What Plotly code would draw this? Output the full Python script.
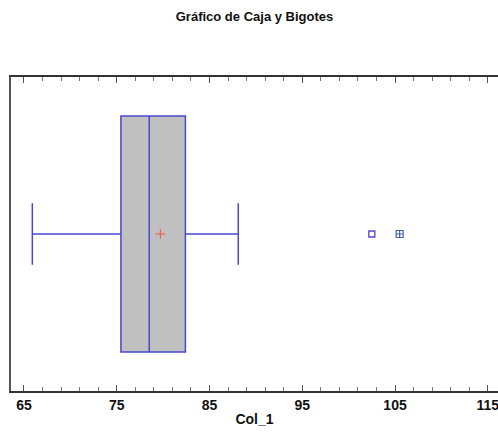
import plotly.graph_objects as go

# Summary values
q1 = [75.45]
median = [78.5]
q3 = [82.4]
lower_whisker = [65.9]
upper_whisker = [88.1]
mean_val = [79.7]
outliers = [102.5]
far_outliers = [105.5]
tick_vals = [65, 75, 85, 95, 105, 115]

FONT = "Liberation Sans Narrow, Arial Narrow, Liberation Sans, Arial, sans-serif"
BLUE = "#4848d0"

fig = go.Figure()
fig.add_trace(go.Box(
    q1=q1, median=median, q3=q3,
    lowerfence=lower_whisker, upperfence=upper_whisker,
    y=[0], orientation="h", boxpoints=False,
    width=0.752, whiskerwidth=0.26,
    fillcolor="#c0c0c0", line=dict(color=BLUE, width=1.5),
    showlegend=False, hoverinfo="skip",
))
fig.add_trace(go.Scatter(
    x=mean_val, y=[0], mode="markers",
    marker=dict(symbol="cross-thin-open", size=7, line=dict(color="#8e4040", width=1)),
    showlegend=False,
))
fig.add_trace(go.Scatter(
    x=outliers, y=[0] * len(outliers), mode="markers",
    marker=dict(symbol="square-open", size=6, color="#5a40d0", line=dict(width=1.3)),
    showlegend=False,
))
fig.add_trace(go.Scatter(
    x=far_outliers, y=[0] * len(far_outliers), mode="markers",
    marker=dict(symbol="square-cross-open", size=7, color="#4060b0", line=dict(width=1.2)),
    showlegend=False,
))

fig.update_layout(
    width=498, height=438,
    margin=dict(l=11, r=0, t=77, b=47),
    paper_bgcolor="white", plot_bgcolor="white",
    title=dict(text="<b>Gráfico de Caja y Bigotes</b>", x=0.5, xref="paper",
               y=1 - 16 / 438, yref="container", yanchor="middle", xanchor="center",
               font=dict(family=FONT, size=13, color="#111")),
    font=dict(family=FONT, color="#111"),
    xaxis=dict(
        range=[63.6, 116.1], tickmode="array", tickvals=tick_vals,
        ticktext=[f"<b>{v}</b>" for v in tick_vals],
        ticks="inside", ticklen=6, tickcolor="#555", tickwidth=1,
        showline=True, linecolor="#333", linewidth=1.5, mirror="ticks",
        showgrid=False, zeroline=False, ticklabeloverflow="allow",
        tickfont=dict(family=FONT, size=14, color="#111"),
        minor=dict(dtick=2, tick0=65, ticks="inside", ticklen=4, tickcolor="#777", showgrid=False),
        title=dict(text="<b>Col_1</b>", font=dict(family=FONT, size=14, color="#111"), standoff=3),
    ),
    yaxis=dict(
        range=[-0.5, 0.5], showticklabels=False, ticks="", showgrid=False, zeroline=False,
        showline=True, linecolor="#555", linewidth=1.5,
    ),
)
fig.write_html(
    "out.html",
    config={"displayModeBar": False},
    post_script="document.body.style.margin='0';document.body.style.overflow='hidden';",
)
